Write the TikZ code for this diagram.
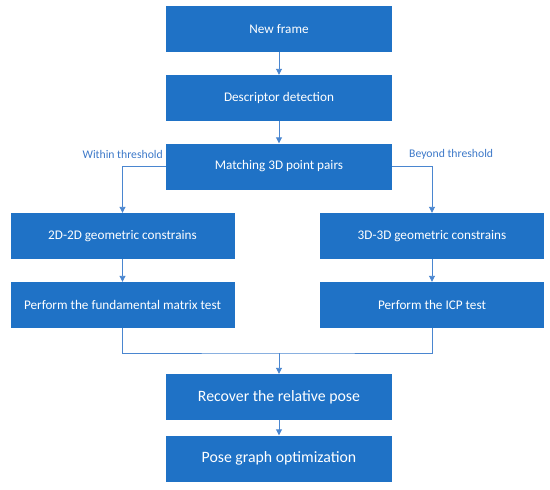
\documentclass[tikz,border=0pt]{standalone}
\usepackage{fontspec}
\setmainfont{Carlito}
\usetikzlibrary{arrows.meta,calc}
\definecolor{BoxClr}{RGB}{31,114,198}
\definecolor{LineClr}{RGB}{74,134,208}
\definecolor{LabelClr}{RGB}{60,120,200}

\begin{document}
\begin{tikzpicture}[x=1pt,y=1pt,
  box/.style={fill=BoxClr,draw=none,text=white,inner sep=0pt,
    minimum height=46pt,font=\fontsize{13.2}{15}\selectfont},
  midbox/.style={box,minimum width=226pt},
  sidebox/.style={box,minimum width=224pt},
  bigbox/.style={midbox,font=\fontsize{15.8}{18}\selectfont},
  lbl/.style={text=LabelClr,inner sep=0pt,font=\fontsize{11.7}{13}\selectfont},
  conn/.style={draw=LineClr,line width=0.9pt},
  arr/.style={conn,-{Triangle[length=6pt,width=6pt]}}]
\useasboundingbox (0,0) rectangle (550,-490);

\node[midbox] (frame) at (279,-29) {New frame};
\node[midbox] (desc) at (279,-98) {Descriptor detection};
\node[midbox] (match) at (279,-166.5) {Matching 3D point pairs};
\node[sidebox] (geotwo) at (122.5,-236) {2D-2D geometric constrains};
\node[sidebox] (fund) at (122.5,-305) {Perform the fundamental matrix test};
\node[sidebox] (geothree) at (432,-236) {3D-3D geometric constrains};
\node[sidebox] (icp) at (432,-305) {Perform the ICP test};
\node[bigbox] (recov) at (279,-397) {Recover the relative pose};
\node[bigbox] (pgo) at (279,-458.5) {Pose graph optimization};

\node[lbl,anchor=east] (within) at (163,-154) {Within threshold};
\node[lbl,anchor=west] (beyond) at (409,-154) {Beyond threshold};

\coordinate (join) at (279,-353);

\draw[arr] (frame) -- (desc);
\draw[arr] (desc) -- (match);
\draw[arr] (match.west) -| (geotwo.north);
\draw[arr] (match.east) -| (geothree.north);
\draw[arr] (geotwo) -- (fund);
\draw[arr] (geothree) -- (icp);
\draw[conn] (fund.south) |- (join) -| (icp.south);
\draw[arr] (join) -- (recov.north);
\draw[arr] (recov) -- (pgo);

\end{tikzpicture}
\end{document}
